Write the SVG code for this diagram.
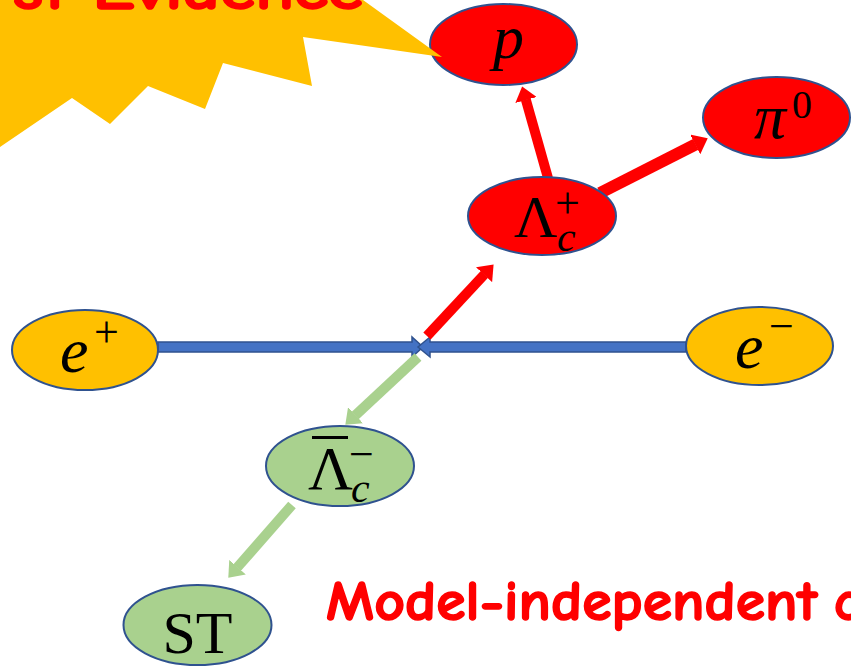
<svg xmlns="http://www.w3.org/2000/svg" width="851" height="666" viewBox="0 0 851 666">
<defs>
<style>
.ell{stroke:#2F528F;stroke-width:2}
.red{fill:#FF0000}
.yel{fill:#FFC000}
.grn{fill:#A9D18E}
.mi{font-family:"Liberation Serif","DejaVu Serif",serif;font-style:italic;fill:#000}
.mr{font-family:"Liberation Serif","DejaVu Serif",serif;fill:#000}
.cm{font-family:"Comic Neue","Noto Sans",sans-serif;font-weight:bold;fill:#FF0000;stroke:#FF0000;stroke-width:1.5;stroke-linejoin:round}
.rl{stroke:#FF0000;fill:none}
.gl{stroke:#A9D18E;fill:none;stroke-width:10}
.blue{fill:#4472C4;stroke:#2F528F;stroke-width:1.5}
</style>
<marker id="hr" markerUnits="userSpaceOnUse" viewBox="0 0 14 22" markerWidth="14" markerHeight="22" refX="0.5" refY="11" orient="auto"><path d="M0,0 L14,11 L0,22 z" fill="#FF0000"/></marker>
<marker id="hg" markerUnits="userSpaceOnUse" viewBox="0 0 14 22" markerWidth="14" markerHeight="22" refX="0.5" refY="11" orient="auto"><path d="M0,0 L14,11 L0,22 z" fill="#A9D18E"/></marker>
</defs>
<rect width="851" height="666" fill="#FFFFFF"/>

<g id="connectors">
<polygon class="blue" points="158,342 412,342 412,337 423,347 412,357 412,352 158,352"/>
<polygon class="blue" points="686,342 430,342 430,337 418,347 430,357 430,352 686,352"/>
<line class="rl" stroke-width="10" x1="427" y1="336" x2="484.4" y2="274.3" marker-end="url(#hr)"/>
<line class="rl" stroke-width="10" x1="548" y1="178" x2="525.8" y2="99.5" marker-end="url(#hr)"/>
<line class="rl" stroke-width="12" x1="600" y1="193" x2="695.7" y2="144.3" marker-end="url(#hr)"/>
<line class="gl" x1="418" y1="357" x2="355.2" y2="415.5" marker-end="url(#hg)"/>
<line class="gl" x1="292" y1="505" x2="237.2" y2="567.5" marker-end="url(#hg)"/>
</g>

<g id="node-p">
<ellipse class="ell red" cx="503.5" cy="44.5" rx="73.5" ry="40.5"/>
<text class="mi" x="493" y="58" font-size="62">p</text>
</g>

<g id="node-pi0">
<ellipse class="ell red" cx="776.5" cy="117.5" rx="73.5" ry="40.5"/>
<text class="mi" x="754" y="138" font-size="64">π</text>
<text class="mr" x="792" y="118" font-size="40">0</text>
</g>

<g id="node-lambdac-plus">
<ellipse class="ell red" cx="542" cy="216" rx="74" ry="39"/>
<text class="mr" x="514" y="237" font-size="60">Λ</text>
<text class="mr" x="555" y="218" font-size="44">+</text>
<text class="mi" x="557" y="251" font-size="42">c</text>
</g>

<g id="node-e-plus">
<ellipse class="ell yel" cx="85" cy="350" rx="73" ry="40"/>
<text class="mi" x="60" y="372" font-size="64">e</text>
<text class="mr" x="94" y="347" font-size="44">+</text>
</g>

<g id="node-e-minus">
<ellipse class="ell yel" cx="759.5" cy="346" rx="73.5" ry="39"/>
<text class="mi" x="735" y="368" font-size="64">e</text>
<text class="mr" x="769" y="341" font-size="44">−</text>
</g>

<g id="node-lambdac-bar-minus">
<ellipse class="ell grn" cx="340" cy="466" rx="74" ry="40"/>
<text class="mr" x="308" y="489" font-size="62">Λ</text>
<line x1="312" y1="437.5" x2="348" y2="437.5" stroke="#000" stroke-width="3"/>
<text class="mr" x="349" y="469" font-size="44">−</text>
<text class="mi" x="351" y="502" font-size="42">c</text>
</g>

<g id="node-st">
<ellipse class="ell grn" cx="197.5" cy="625" rx="74" ry="40"/>
<text class="mr" x="197.5" y="653" font-size="60" text-anchor="middle">ST</text>
</g>

<g id="starburst">
<polygon class="yel" points="0,0 363,0 442,57 303,37 312,86 223,63 205,109 148,86 110,124 72,98 0,147"/>
<text class="cm" x="13" y="9" font-size="56" textLength="350" lengthAdjust="spacingAndGlyphs">st Evidence</text>
</g>

<text class="cm" x="326" y="620" font-size="56" textLength="491" lengthAdjust="spacingAndGlyphs">Model-independent</text>
<text class="cm" x="834" y="620" font-size="56">c</text>
</svg>
